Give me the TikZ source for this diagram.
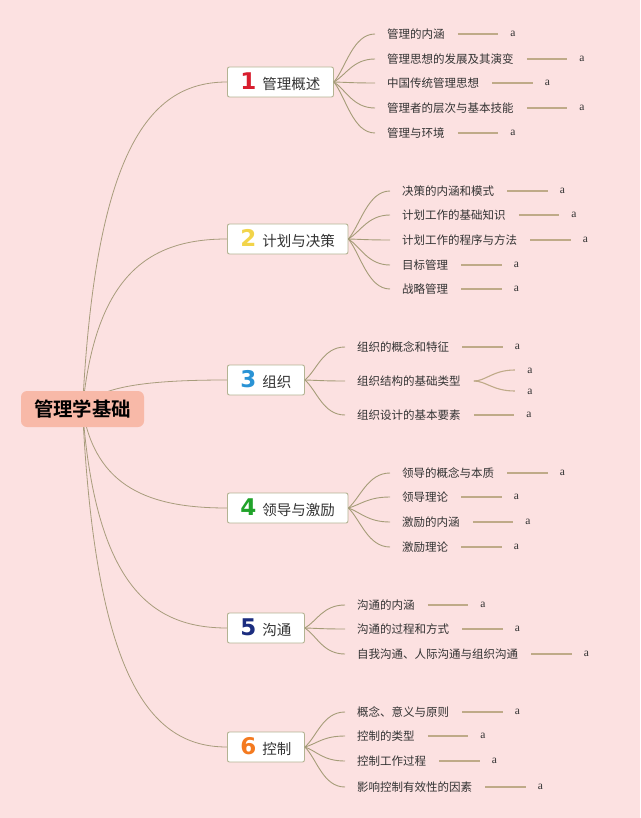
\documentclass[tikz,border=0pt]{standalone}
\usepackage{fontspec}
\newfontfamily\cjk{Noto Sans CJK SC}
\newfontfamily\cjkbold{Noto Sans CJK SC Bold}
\newfontfamily\numfont{DejaVu Sans}
\newfontfamily\aserif{Liberation Serif}
\usetikzlibrary{calc}
\definecolor{bgpink}{HTML}{FCE1E1}
\definecolor{rootfill}{HTML}{F8B9A8}
\definecolor{topicborder}{HTML}{B3B392}
\definecolor{textdark}{HTML}{333333}
\definecolor{rootlinecol}{HTML}{A89C7C}
\definecolor{sublinecol}{HTML}{A59C78}
\definecolor{hlinecol}{HTML}{BFAA88}
\definecolor{nred}{HTML}{D81E2E}
\definecolor{nyellow}{HTML}{F2D44A}
\definecolor{nblue}{HTML}{2A93D5}
\definecolor{ngreen}{HTML}{21A32A}
\definecolor{nnavy}{HTML}{1B2D7F}
\definecolor{norange}{HTML}{F47A20}
\pgfdeclarelayer{background}
\pgfsetlayers{background,main}
\newcommand\tnum[2]{{\color{#1}\numfont\bfseries\fontsize{23}{23}\selectfont #2}\hspace{6pt}}
\newcommand\subcurve[2]{%
  \draw[subline] let \p1=(#1.east), \p2=(#2) in (\p1) .. controls ({\x1+12pt},{\y1+0.3*(\y2-\y1)}) and ({\x2-22pt},\y2) .. (\p2);}
\newcommand\leaf[5]{%
  \coordinate (#2b) at (#3,#4);
  \node[leaf] (#2) at (#3+12,#4) {#5};
  \path (#2.east) ++(68,0) node[aleaf] (#2a) {a};
  \draw[hline] (#2.east) -- (#2a.west);
  \subcurve{#1}{#2b}}
\newcommand\rootcurve[1]{%
  \draw[rootline] let \p1=(root.center), \p2=(#1.west) in (\p1) .. controls ({\x1+13pt},{\y2+0.2*(\y1-\y2)}) and ({\x1+0.47*(\x2-\x1)},\y2) .. (\p2);}
\begin{document}
\begin{tikzpicture}[x=1pt,y=-1pt,
  root/.style={fill=rootfill, rounded corners=6pt, minimum width=123pt, minimum height=36pt, inner sep=0pt, font=\cjkbold\fontsize{19.4}{20}\selectfont, text=black},
  topic/.style={draw=topicborder, line width=0.9pt, fill=white, rounded corners=2pt, minimum height=30pt, inner xsep=13pt, inner ysep=0pt, font=\cjk\fontsize{14.5}{16}\selectfont, text=textdark, anchor=west},
  leaf/.style={inner sep=0pt, font=\cjk\fontsize{11.5}{13}\selectfont, text=textdark, anchor=west},
  aleaf/.style={inner sep=0pt, font=\aserif\fontsize{11.5}{12}\selectfont, text=textdark},
  rootline/.style={draw=rootlinecol, line width=0.8pt},
  subline/.style={draw=sublinecol, line width=0.9pt},
  hline/.style={draw=hlinecol, line width=1.3pt, shorten <=13pt, shorten >=12pt},
  forkline/.style={draw=hlinecol, line width=1.1pt},
]
\useasboundingbox (0,0) rectangle (640,818);
\begin{pgfonlayer}{background}
\fill[bgpink] (0,0) rectangle (640,818);
\end{pgfonlayer}

\node[root] (root) at (82.5,409) {管理学基础};
\node[topic] (t1) at (227,82) {\tnum{nred}{1}管理概述};
\node[topic] (t2) at (227,239) {\tnum{nyellow}{2}计划与决策};
\node[topic] (t3) at (227,380) {\tnum{nblue}{3}组织};
\node[topic] (t4) at (227,508) {\tnum{ngreen}{4}领导与激励};
\node[topic] (t5) at (227,628) {\tnum{nnavy}{5}沟通};
\node[topic] (t6) at (227,747) {\tnum{norange}{6}控制};

\begin{pgfonlayer}{background}
\rootcurve{t1}
\rootcurve{t2}
\rootcurve{t3}
\rootcurve{t4}
\rootcurve{t5}
\rootcurve{t6}
\end{pgfonlayer}

\leaf{t1}{l11}{375}{34}{管理的内涵}
\leaf{t1}{l12}{375}{59}{管理思想的发展及其演变}
\leaf{t1}{l13}{375}{83}{中国传统管理思想}
\leaf{t1}{l14}{375}{108}{管理者的层次与基本技能}
\leaf{t1}{l15}{375}{133}{管理与环境}

\leaf{t2}{l21}{390}{191}{决策的内涵和模式}
\leaf{t2}{l22}{390}{215}{计划工作的基础知识}
\leaf{t2}{l23}{390}{240}{计划工作的程序与方法}
\leaf{t2}{l24}{390}{265}{目标管理}
\leaf{t2}{l25}{390}{289}{战略管理}

\leaf{t3}{l31}{345}{347}{组织的概念和特征}
\coordinate (l32b) at (345,381);
\node[leaf] (l32) at (357,381) {组织结构的基础类型};
\subcurve{t3}{l32b}
\path (l32.east) +(13,0) coordinate (l32o)
  +(54,-11) coordinate (l32u) +(54,10) coordinate (l32d)
  +(69,-10) node[aleaf] (l32a1) {a} +(69,11) node[aleaf] (l32a2) {a};
\draw[forkline] (l32o) .. controls +(12,0) and +(-22,0) .. (l32u);
\draw[forkline] (l32o) .. controls +(12,0) and +(-22,0) .. (l32d);
\leaf{t3}{l33}{345}{415}{组织设计的基本要素}

\leaf{t4}{l41}{390}{473}{领导的概念与本质}
\leaf{t4}{l42}{390}{497}{领导理论}
\leaf{t4}{l43}{390}{522}{激励的内涵}
\leaf{t4}{l44}{390}{547}{激励理论}

\leaf{t5}{l51}{345}{605}{沟通的内涵}
\leaf{t5}{l52}{345}{629}{沟通的过程和方式}
\leaf{t5}{l53}{345}{654}{自我沟通、人际沟通与组织沟通}

\leaf{t6}{l61}{345}{712}{概念、意义与原则}
\leaf{t6}{l62}{345}{736}{控制的类型}
\leaf{t6}{l63}{345}{761}{控制工作过程}
\leaf{t6}{l64}{345}{787}{影响控制有效性的因素}
\end{tikzpicture}
\end{document}
